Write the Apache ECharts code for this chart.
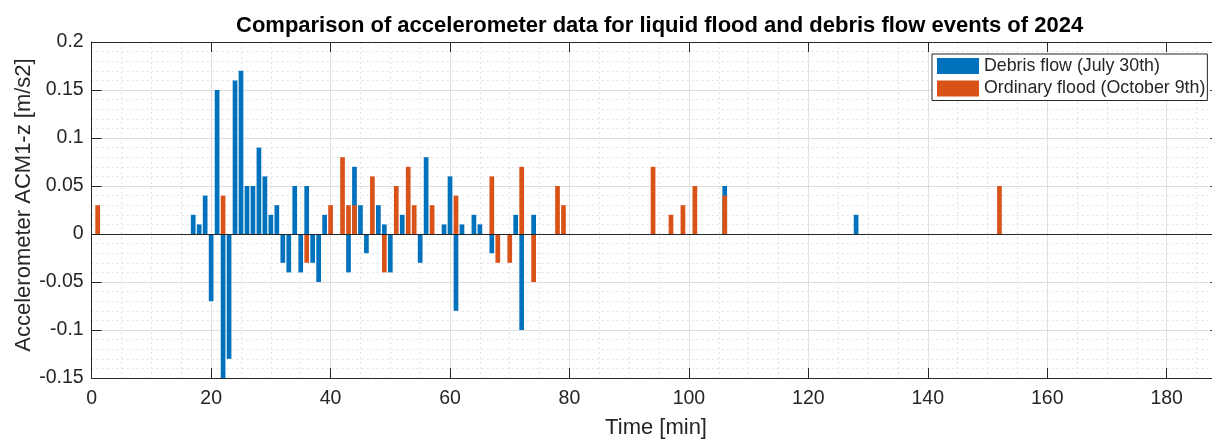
<!DOCTYPE html>
<html>
<head>
<meta charset="utf-8">
<script src="https://cdn.jsdelivr.net/npm/echarts@6/dist/echarts.min.js"></script>
<style>
html,body{margin:0;padding:0;background:#fff;overflow:hidden;}
#chart{width:1212px;height:439px;}
</style>
</head>
<body>
<div id="chart"></div>
<script>
// Debris flow (July 30th) — minute, acceleration
const debrisMinutes = [17,18,19,20,21,22,23,24,25,26,27,28,29,30,31,32,33,34,35,36,37,38,39,43,44,45,46,48,49,50,52,55,56,59,60,61,62,64,65,67,71,72,74,106,128];
const debrisValues  = [0.02,0.01,0.04,-0.07,0.15,-0.15,-0.13,0.16,0.17,0.05,0.05,0.09,0.06,0.02,0.03,-0.03,-0.04,0.05,-0.04,0.05,-0.03,-0.05,0.02,-0.04,0.07,0.03,-0.02,0.03,0.01,-0.04,0.02,-0.03,0.08,0.01,0.06,-0.08,0.01,0.02,0.01,-0.02,0.02,-0.10,0.02,0.05,0.02];
// Ordinary flood (October 9th)
const floodMinutes = [1,22,36,40,42,43,44,47,49,51,53,54,57,61,67,68,70,72,74,78,79,94,97,99,101,106,152];
const floodValues  = [0.03,0.04,-0.03,0.03,0.08,0.03,0.03,0.06,-0.04,0.05,0.07,0.03,0.03,0.04,0.06,-0.03,-0.03,0.07,-0.05,0.05,0.03,0.07,0.02,0.03,0.05,0.04,0.05];

const seriesNames = ['Debris flow (July 30th)', 'Ordinary flood (October 9th)'];
const titleText = 'Comparison of accelerometer data for liquid flood and debris flow events of 2024';
const xName = 'Time [min]';
const yName = 'Accelerometer ACM1-z [m/s2]';

const FONT = 'Liberation Sans, Arial, Helvetica, sans-serif';
const AX = '#262626';
const X_MIN = 0, X_MAX = 189, Y_MIN = -0.15, Y_MAX = 0.2;

const pairs = (xs, ys) => xs.map((x, i) => [x, ys[i]]);

const chart = echarts.init(document.getElementById('chart'), null, {renderer: 'canvas'});
chart.setOption({
  animation: false,
  backgroundColor: '#fff',
  title: {
    text: titleText,
    left: 231, top: 10,
    textStyle: {fontFamily: FONT, fontSize: 22, fontWeight: 'bold', color: '#000'}
  },
  legend: {
    orient: 'vertical',
    left: 932, top: 54,
    padding: [3, 2, 3, 5],
    itemWidth: 42, itemHeight: 16, itemGap: 4.5,
    backgroundColor: '#fff',
    borderColor: AX, borderWidth: 1,
    icon: 'rect',
    textStyle: {fontFamily: FONT, fontSize: 17.8, color: AX},
    data: seriesNames
  },
  grid: {left: 91.7, right: -8.4, top: 42, bottom: 61, containLabel: false, outerBoundsMode: 'none'},
  xAxis: [
    {
      type: 'value', position: 'bottom', min: X_MIN, max: X_MAX, interval: 20,
      name: xName, nameLocation: 'middle', nameGap: 39, nameMoveOverlap: false,
      nameTextStyle: {fontFamily: FONT, fontSize: 22, color: AX},
      axisLine: {show: true, onZero: false, lineStyle: {color: AX, width: 1}},
      axisTick: {show: true, inside: true, length: 10, lineStyle: {color: AX}},
      axisLabel: {fontFamily: FONT, fontSize: 19.5, color: AX, margin: 11,
        formatter: v => (Math.abs(v % 20) < 1e-9 ? String(v) : '')},
      splitLine: {show: true, lineStyle: {color: '#dedede', width: 1}}
    },
    {
      type: 'value', position: 'top', min: X_MIN, max: X_MAX, interval: 20,
      axisLine: {show: true, onZero: false, lineStyle: {color: AX, width: 1}},
      axisTick: {show: true, inside: true, length: 10, lineStyle: {color: AX}},
      axisLabel: {show: false},
      splitLine: {show: false}
    },
    {
      type: 'value', position: 'bottom', min: X_MIN, max: X_MAX, interval: 5,
      axisLine: {show: false}, axisTick: {show: false}, axisLabel: {show: false},
      splitLine: {show: true, lineStyle: {color: '#e3e3e3', width: 1, type: [2, 3]}},
      z: 0
    }
  ],
  yAxis: [
    {
      type: 'value', position: 'left', min: Y_MIN, max: Y_MAX, interval: 0.05,
      name: yName, nameLocation: 'middle', nameGap: 57, nameRotate: 90, nameMoveOverlap: false,
      nameTextStyle: {fontFamily: FONT, fontSize: 22, color: AX, padding: [0, 0, 0, 10]},
      axisLine: {show: true, onZero: false, lineStyle: {color: AX, width: 1}},
      axisTick: {show: true, inside: true, length: 10, lineStyle: {color: AX}},
      axisLabel: {fontFamily: FONT, fontSize: 19.5, color: AX, margin: 8},
      splitLine: {show: true, lineStyle: {color: '#dedede', width: 1}},
      minorTick: {show: false, splitNumber: 5},
      minorSplitLine: {show: true, lineStyle: {color: '#e3e3e3', width: 1, type: [2, 3]}}
    },
    {
      type: 'value', position: 'right', min: Y_MIN, max: Y_MAX, interval: 0.05,
      axisLine: {show: true, onZero: false, lineStyle: {color: AX, width: 1}},
      axisTick: {show: true, inside: true, length: 10, lineStyle: {color: AX}},
      axisLabel: {show: false},
      splitLine: {show: false}
    }
  ],
  series: [
    {
      name: seriesNames[0], type: 'bar', xAxisIndex: 0, yAxisIndex: 0,
      data: pairs(debrisMinutes, debrisValues),
      barWidth: 4.7, barGap: '-100%',
      itemStyle: {color: '#0072BD'},
      clip: true
    },
    {
      name: seriesNames[1], type: 'bar', xAxisIndex: 0, yAxisIndex: 0,
      data: pairs(floodMinutes, floodValues),
      barWidth: 4.7, barGap: '-100%',
      itemStyle: {color: '#D95319'},
      clip: true,
      markLine: {
        silent: true, symbol: 'none', label: {show: false},
        lineStyle: {color: AX, width: 1.2, type: 'solid'},
        data: [{yAxis: 0}]
      }
    }
  ]
});
</script>
</body>
</html>
